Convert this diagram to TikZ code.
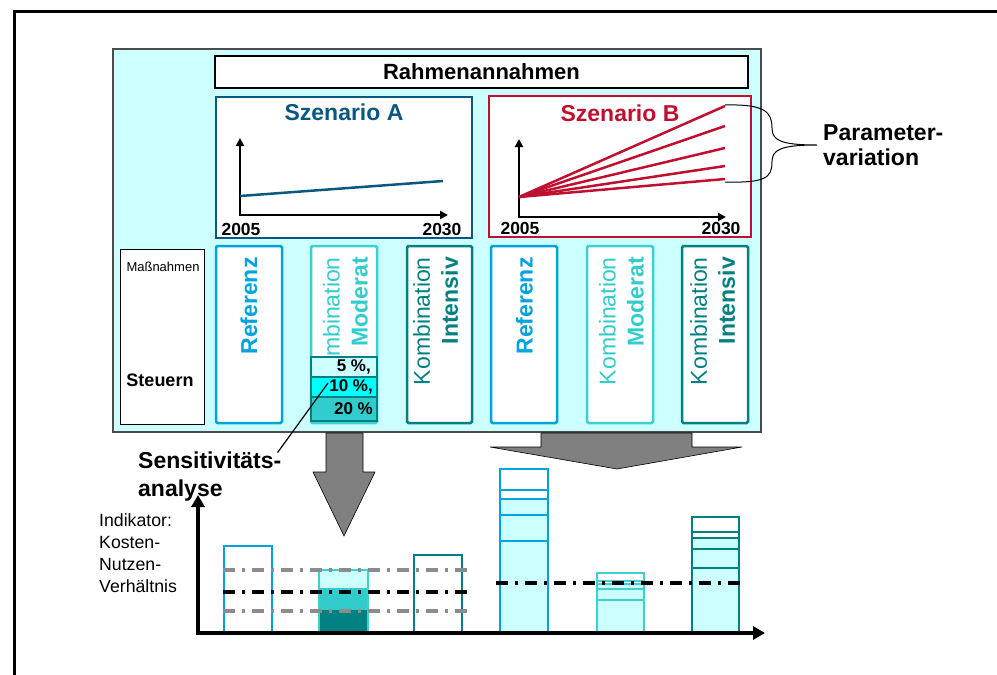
\documentclass[tikz,border=0pt]{standalone}
\usepackage{fontspec}
\setmainfont{Liberation Sans}
\usepackage{tikz}
\usetikzlibrary{arrows.meta}
\definecolor{panelcyan}{RGB}{204,255,255}
\definecolor{szenA}{RGB}{10,88,128}
\definecolor{szenB}{RGB}{192,16,48}
\definecolor{refblue}{RGB}{0,163,221}
\definecolor{modturq}{RGB}{60,208,208}
\definecolor{midturq}{RGB}{51,204,204}
\definecolor{intteal}{RGB}{0,128,128}
\definecolor{pctcyan}{RGB}{0,255,255}
\definecolor{arrowgray}{RGB}{128,128,128}
\definecolor{dashgray}{RGB}{140,140,140}
\newcommand{\fsz}[2]{\fontsize{#1}{#2}\selectfont}
\tikzset{
	colbox/.style={draw=#1,line width=2.5pt,fill=white,rounded corners=1.5pt},
	vlabel/.style={rotate=90,inner sep=0pt,align=right,font=\fsz{23}{28}},
	yearlab/.style={inner sep=0pt,font=\fsz{17.5}{20}\bfseries},
	pctbox/.style={draw=intteal,line width=2pt,fill=#1},
	pctlab/.style={anchor=east,inner sep=0pt,font=\fsz{17}{20}\bfseries},
	dashdot/.style={line width=3.5pt,dash pattern=on 12pt off 7pt on 3pt off 7pt},
	bigarrow/.style={fill=arrowgray,draw=black,line width=0.6pt},
	smallaxis/.style={line width=2.5pt,{Triangle[length=8pt,width=8pt]}-{Triangle[length=8pt,width=8pt]}},
	bar/.style={draw=#1,line width=2.5pt},
	barline/.style={draw=#1,line width=2pt},
}
\begin{document}
\begin{tikzpicture}[x=1pt,y=-1pt]
			\useasboundingbox (0,0) rectangle (997,675);
			\draw[line width=3pt] (997,11) -- (14,11) -- (14,675);
			\draw[fill=panelcyan,draw=black!70,line width=1.5pt] (113,49) rectangle (761,432);
			\node[draw,line width=2.5pt,fill=white,minimum width=533pt,minimum height=32pt,font=\fsz{22}{24}\bfseries] (rahmen) at (481.5,72) {Rahmenannahmen};
			\draw[colbox=szenA,rounded corners=0pt] (216,97) rectangle (472,238);
			\draw[colbox=szenB,rounded corners=0pt] (489,96) rectangle (751,237);
			\node[text=szenA,font=\fsz{23}{25}\bfseries] (szA) at (344,112) {Szenario A};
			\node[text=szenB,font=\fsz{23}{25}\bfseries] (szB) at (620,113) {Szenario B};
			\draw[smallaxis] (240,138) -- (240,215) -- (448,215);
			\draw[szenA,line width=2.5pt] (240,196) -- (443,181);
			\draw[smallaxis] (519,139) -- (519,217) -- (726,217);
			\foreach \y in {106,126,148,166,179}
				\draw[szenB,line width=2.5pt] (519,197) -- (725,\y);
			\node[yearlab] (yA1) at (241,229) {2005};
			\node[yearlab] (yA2) at (442,229) {2030};
			\node[yearlab] (yB1) at (520,228) {2005};
			\node[yearlab] (yB2) at (721,228) {2030};
			\coordinate (btip) at (817,145);
			\draw[line width=1pt] (725,105) .. controls (765,104) and (772,112) .. (772,128) .. controls (772,140) and (780,145) .. (btip) .. controls (780,145) and (772,150) .. (772,162) .. controls (772,178) and (765,183) .. (725,182);
			\node[anchor=west,align=left,inner sep=0pt,font=\fsz{23}{25}\bfseries] (parvar) at (823,145.5) {Parameter-\\variation};
			\node[draw,line width=1pt,fill=white,minimum width=84pt,minimum height=175pt] (mbox) at (162,336.5) {};
			\node[font=\fsz{13}{15}] (massn) at (163,267) {Maßnahmen};
			\node[font=\fsz{18}{20}\bfseries] (steuern) at (160,380) {Steuern};
			\draw[colbox=refblue] (216,246) rectangle (282,423);
			\draw[colbox=modturq] (311,246) rectangle (377,423);
			\draw[colbox=intteal] (407,246) rectangle (472,423);
			\draw[colbox=refblue] (491,246) rectangle (557,423);
			\draw[colbox=modturq] (587,246) rectangle (653,423);
			\draw[colbox=intteal] (682,246) rectangle (748,423);
			\node[vlabel,text=refblue,font=\fsz{23}{28}\bfseries] (refA) at (249,306) {Referenz};
			\node[vlabel,text=midturq,anchor=east] (modA) at (345.5,257) {Kombination\\\textbf{Moderat}};
			\node[vlabel,text=intteal,anchor=east] (intA) at (435.6,257) {Kombination\\\textbf{Intensiv}};
			\node[vlabel,text=refblue,font=\fsz{23}{28}\bfseries] (refB) at (524.5,306) {Referenz};
			\node[vlabel,text=midturq,anchor=east] (modB) at (621.5,257) {Kombination\\\textbf{Moderat}};
			\node[vlabel,text=intteal,anchor=east] (intB) at (712.6,257) {Kombination\\\textbf{Intensiv}};
			\draw[pctbox=panelcyan] (311,357) rectangle (377,377);
			\draw[pctbox=pctcyan] (311,377) rectangle (377,397);
			\draw[pctbox=midturq] (311,397) rectangle (377,421);
			\node[pctlab] (p5) at (371,367) {5 \%,};
			\node[pctlab] (p10) at (373,387) {10 \%,};
			\node[pctlab] (p20) at (373,409) {20 \%};
			\coordinate (p10end) at (328,383);
			\draw[bigarrow] (326,433) -- (363,433) -- (363,472) -- (375,472) -- (344,536) -- (313,472) -- (326,472) -- cycle;
			\draw[bigarrow] (541,433) -- (692,433) -- (692,447) -- (742,447) -- (617,469) -- (490,447) -- (541,447) -- cycle;
			\node[anchor=north west,align=left,inner sep=0pt,font=\fsz{23}{28}\bfseries] (sens) at (138,451.6) {Sensitivitäts-\\analyse};
			\draw[line width=1.2pt] (sens.north east) ++(-4,1) -- (p10end);
			\draw[bar=refblue,fill=white] (224,633) rectangle (272,546);
			\fill[panelcyan] (319,570) rectangle (368,588);
			\fill[midturq] (319,588) rectangle (368,610);
			\fill[intteal] (319,610) rectangle (368,633);
			\draw[bar=modturq] (319,633) rectangle (368,570);
			\draw[bar=intteal,fill=white] (414,633) rectangle (462,555);
			\draw[bar=refblue,fill=white] (500,633) rectangle (548,469);
			\fill[panelcyan] (501.2,499) rectangle (546.8,633);
			\foreach \y in {490,499,515,541}
				\draw[barline=refblue] (500,\y) -- (548,\y);
			\draw[bar=refblue] (500,633) rectangle (548,469);
			\draw[bar=modturq,fill=white] (597,633) rectangle (644,573);
			\fill[panelcyan] (598.2,584) rectangle (642.8,633);
			\foreach \y in {581,584,589,600}
				\draw[barline=modturq] (597,\y) -- (644,\y);
			\draw[bar=modturq] (597,633) rectangle (644,573);
			\draw[bar=intteal,fill=white] (692,633) rectangle (739,517);
			\fill[panelcyan] (693.2,538) rectangle (737.8,633);
			\foreach \y in {532,538,549,568}
				\draw[barline=intteal] (692,\y) -- (739,\y);
			\draw[bar=intteal] (692,633) rectangle (739,517);
			\draw[dashdot,dashgray] (223,570) -- (470,570);
			\draw[dashdot,black] (223,592) -- (470,592);
			\draw[dashdot,dashgray] (223,611) -- (470,611);
			\draw[dashdot,black] (496,583) -- (743,583);
			\draw[line width=4pt,{Triangle[length=12pt,width=13pt]}-{Triangle[length=12pt,width=13pt]}] (198,495) -- (198,633) -- (765,633);
			\node[anchor=north west,align=left,inner sep=0pt,font=\fsz{17.7}{22}] (indik) at (99,513.4) {Indikator:\\Kosten-\\Nutzen-\\Verhältnis};
		\end{tikzpicture}
\end{document}
